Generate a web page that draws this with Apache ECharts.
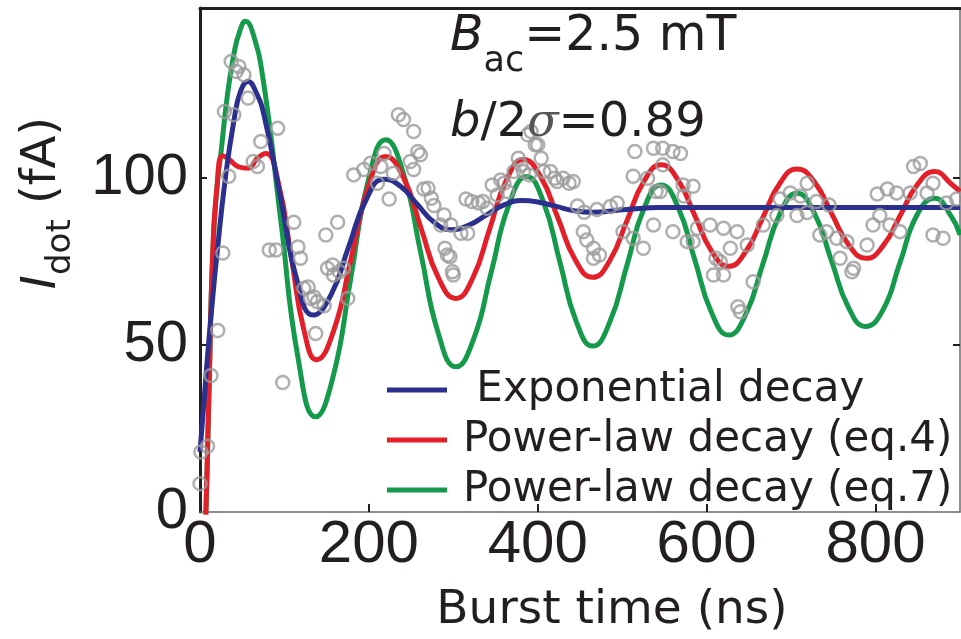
<!DOCTYPE html>
<html>
<head>
<meta charset="utf-8">
<script src="https://cdn.jsdelivr.net/npm/echarts@6/dist/echarts.min.js"></script>
<style>
html,body{margin:0;padding:0;background:#fff;}
#chart{width:961px;height:639px;}
</style>
</head>
<body>
<div id="chart"></div>
<script>
// ---- data ----
const xTickLabels = [0, 200, 400, 600, 800];
const yTickLabels = [0, 50, 100];
const legendNames = ['Exponential decay', 'Power-law decay (eq.4)', 'Power-law decay (eq.7)'];

// measured dot current (fA) vs burst time (ns)
const measured = [
[0,8.5],[1,18],[9,19.7],[13,40.9],[21,54.4],[27,77.6],[29,120],[34,100.6],[37,135],[40,119],[43,132],[46,133.5],[52,131],[57,124],[63,105],[68,103.5],[72,111],[82,78.5],[90,78.5],[92,115],[98,38.8],
[111,86.8],[116,79.4],[119,76],[123,67],[128,67.4],[131,64],[135,64.4],[137,53.5],[139,63],[147,61.8],[149,83],[151,73],[157,74],[158,71],[163,86.8],[165,72],[170,73],[175,64],
[182,101],[194,102.6],[202,104.5],[210,98.5],[214,103.5],[218,107.4],[224,93.8],[229,101.5],[235,119],[241,117.6],[249,105],[253,114],[253,102.6],[258,108],[261,107],[265,96.8],[270,97],[274,94],[277,91.8],[285,86],[289,89],[290,79],[293,77],[296,76.5],[297,86],[299,72],[300,71],
[309,83.5],[315,93.8],[317,83.5],[322,93],[330,92.6],[335,93],[340,91],[346,98],[352,95],[356,99.5],[360,98.5],[364,96],[372,102],[377,106],[380,104],[383,102],[388,113],[390,101],[392,114],[397,110],[400,110],[404,106],[407,102],[415,102],[420,100],[423,99],[430,100],[437,98.5],[442,99],
[447,91.7],[454,84],[455,89.8],[458,81.5],[466,79],[466,76],[470,90.6],[473,77],[486,91.5],[494,92.6],[501,84],[513,82],[513,100.6],[515,108],[525,79],[530,100],[537,109],[537,86],[540,96],[545,96],[548,104],[548,109],[560,108],[560,84],[569,107.4],[572,98],[573,94.7],[577,81],[584,97.6],[584,81],[589,85],
[604,86],[608,71],[611,76],[616,75],[620,85],[620,71],[628,79],[636,84],[637,61.5],[640,60],[648,80],[655,69],[667,86],[683,88.8],[687,93.8],[699,95.6],[707,88.8],[711,94.7],[719,98.5],[719,89.7],
[730,93],[734,83],[742,84],[745,92],[754,82],[758,76],[766,81],[772,72],[774,73],[790,80],[797,86],[802,95.3],[805,88.8],[814,96.8],[817,86],[825,95.6],[829,84],[841,95.6],[845,103.5],[853,104.4],[861,95.6],[868,98.5],[868,83],[880,82],[884,92.6],[896,93.8]
];

// exponential-decay fit (blue)
const expFit = [
[0,18],[5,34],[10,50],[15,64],[20,77],[30,100],[40,117],[48,126],[57,129],[66,126],[76,118.7],[95.5,94],[115,69.3],[134,59],
[155,65],[176,79.4],[197,93.7],[218,99.7],[237.75,97.5],[257.5,92.15],[277.25,86.8],[297,84.6],[318,85.9],[339,88.95],[360,92],[381,93.3],
[401.5,92.8],[422,91.55],[442.5,90.3],[463,89.8],[505,90.6],[545,91.2],[630,91.2],[720,91.2],[810,91.2],[900,91.2]
];

// power-law decay fit, eq.4 (red)
const powFit4 = [
[5,-15],[7,0],[11,40],[15,77],[20,97],[27,106.7],[35,105.5],[45,103.5],[57,103],[68,106],[78,107.4],[93,98.4],[108,76.5],[123,54.6],[138,45.6],
[158.5,54.5],[179,76],[199.5,97.6],[220,106.5],[240.75,100.3],[261.5,85.25],[282.25,70.2],[303,64],[323,70.1],[343,84.8],[363,99.5],[383,105.6],
[403.5,100.4],[424,88],[444.5,75.5],[465,70.3],[485,75.2],[505.5,87.2],[525.75,99.1],[546,104],[566,99.5],[586,88.8],[606,78.1],[626,73.6],
[646,77.9],[666.5,88.2],[686.75,98.5],[707,102.8],[727.5,98.9],[748,89.4],[768.5,79.9],[789,76],[809,79.8],[829.5,89],[849.75,98.2],[870,102],[890,98.2],[900,96]
];

// power-law decay fit, eq.7 (green)
const powFit7 = [
[4,-12],[7,0],[11,40],[15,77],[20,97],[25,108],[32,124],[40,137],[47,144],[54,147],[62,144],[74.75,129.6],[95.5,87.75],[116.25,45.9],[137,28.5],
[157.75,40.7],[178.5,70],[199.25,99.3],[220,111.5],[240.75,101.5],[261.5,77.5],[282.25,53.5],[303,43.5],[324,51.8],[345,72],[366,92.2],[387,100.5],
[406.5,93],[426,75.1],[445.5,57.1],[465,49.7],[485.25,56.9],[505.5,73.85],[525.75,90.9],[546,98],[566,91.4],[586,75.5],[606,59.6],[626,53],
[646.25,59.2],[666.5,74.25],[686.75,89.3],[707,95.5],[727.25,89.7],[747.5,75.55],[767.75,61.4],[788,55.6],[808.5,60.4],[829,74.8],[849.5,89.2],[870,94],[890,88.4],[900,83]
];

const BLUE = '#2b2f8e', RED = '#e3202a', GREEN = '#159a4c', DOT = '#9b9b9b';
const TXT = '#231f20';

const chart = echarts.init(document.getElementById('chart'), null, {renderer: 'canvas'});

const option = {
  animation: false,
  backgroundColor: '#ffffff',
  grid: {left: 198, right: 1, top: 8, bottom: 117, containLabel: false},
  title: [
    {
      left: 450, top: 9, padding: 0,
      text: '{i|B}{s|ac}{n|=2.5 mT}',
      textStyle: {
        fontWeight: 'normal',
        rich: {
          i: {fontFamily: 'DejaVu Sans', fontStyle: 'italic', fontWeight: 'normal', fontSize: 49, color: TXT, lineHeight: 56},
          s: {fontFamily: 'DejaVu Sans', fontWeight: 'normal', fontSize: 35, color: TXT, lineHeight: 34, padding: [50, 0, 0, 0]},
          n: {fontFamily: 'DejaVu Sans', fontWeight: 'normal', fontSize: 49, color: TXT, lineHeight: 56}
        }
      }
    },
    {
      left: 450, top: 96, padding: 0,
      text: '{i|b}{n|/2}{g|σ}{n|=0.89}',
      textStyle: {
        fontWeight: 'normal',
        rich: {
          i: {fontFamily: 'DejaVu Sans', fontStyle: 'italic', fontWeight: 'normal', fontSize: 48, color: TXT, lineHeight: 56},
          g: {fontFamily: 'DejaVu Serif', fontStyle: 'italic', fontWeight: 'normal', fontSize: 46, color: '#555', lineHeight: 56},
          n: {fontFamily: 'DejaVu Sans', fontWeight: 'normal', fontSize: 48, color: TXT, lineHeight: 56}
        }
      }
    }
  ],
  legend: {
    orient: 'vertical',
    left: 387, top: 368,
    padding: 0,
    itemGap: 6,
    itemWidth: 60, itemHeight: 5,
    icon: 'rect',
    data: legendNames,
    formatter: function (name) { return name === legendNames[0] ? ' ' + name : name; },
    textStyle: {fontFamily: 'DejaVu Sans', fontSize: 42, color: TXT, lineHeight: 44, padding: [0, 0, 0, 11]}
  },
  xAxis: [
    {
      type: 'value', position: 'bottom', min: 0, max: 900, interval: 200,
      name: 'Burst time (ns)', nameLocation: 'middle', nameGap: 75,
      nameTextStyle: {fontFamily: 'DejaVu Sans', fontSize: 47, color: TXT, padding: [0, 0, 0, 64]},
      axisLine: {show: true, onZero: false, lineStyle: {color: '#6b6b6b', width: 1.5}},
      axisTick: {show: true, inside: true, length: 8, customValues: [200, 400, 600, 800], lineStyle: {color: TXT, width: 2}},
      axisLabel: {show: true, margin: 3, customValues: xTickLabels, fontFamily: 'Liberation Sans', fontSize: 60, color: TXT},
      splitLine: {show: false}
    },
    {
      type: 'value', position: 'top', min: 0, max: 900,
      axisLine: {show: true, onZero: false, lineStyle: {color: TXT, width: 3}},
      axisTick: {show: false}, axisLabel: {show: false}, splitLine: {show: false}
    }
  ],
  yAxis: [
    {
      type: 'value', position: 'left', min: 0, max: 151, interval: 50,
      name: '{i|I}{s|dot}{n| (fA)}', nameLocation: 'middle', nameRotate: 90, nameGap: 130,
      nameTextStyle: {
        padding: [0, 0, 0, 114],
        rich: {
          i: {fontFamily: 'DejaVu Sans', fontStyle: 'italic', fontSize: 48, color: TXT, lineHeight: 54},
          s: {fontFamily: 'DejaVu Sans', fontSize: 34, color: TXT, lineHeight: 34, padding: [36, 0, 0, 0]},
          n: {fontFamily: 'DejaVu Sans', fontSize: 48, color: TXT, lineHeight: 54}
        }
      },
      axisLine: {show: true, onZero: false, lineStyle: {color: TXT, width: 3}},
      axisTick: {show: true, inside: true, length: 7, customValues: [50, 100], lineStyle: {color: TXT, width: 2}},
      axisLabel: {show: true, margin: 12, customValues: yTickLabels, fontFamily: 'Liberation Sans', fontSize: 58, color: TXT},
      splitLine: {show: false}
    },
    {
      type: 'value', position: 'right', min: 0, max: 151,
      axisLine: {show: true, onZero: false, lineStyle: {color: '#6b6b6b', width: 1.5}},
      axisTick: {show: true, inside: true, length: 7, customValues: [50, 100], lineStyle: {color: TXT, width: 2}},
      axisLabel: {show: false}, splitLine: {show: false}
    }
  ],
  series: [
    {
      name: legendNames[2], type: 'line', data: powFit7, smooth: 0.5, showSymbol: false, clip: true,
      lineStyle: {color: GREEN, width: 5}, itemStyle: {color: GREEN}, z: 2
    },
    {
      name: legendNames[1], type: 'line', data: powFit4, smooth: 0.5, showSymbol: false, clip: true,
      lineStyle: {color: RED, width: 5}, itemStyle: {color: RED}, z: 3
    },
    {
      name: legendNames[0], type: 'line', data: expFit, smooth: 0.5, showSymbol: false, clip: true,
      lineStyle: {color: BLUE, width: 5}, itemStyle: {color: BLUE}, z: 4
    },
    {
      name: 'Measured', type: 'scatter', data: measured, symbol: 'circle', symbolSize: 13, clip: true,
      itemStyle: {color: 'rgba(255,255,255,0)', borderColor: DOT, borderWidth: 2.5}, z: 5
    }
  ]
};
chart.setOption(option);
</script>
</body>
</html>
